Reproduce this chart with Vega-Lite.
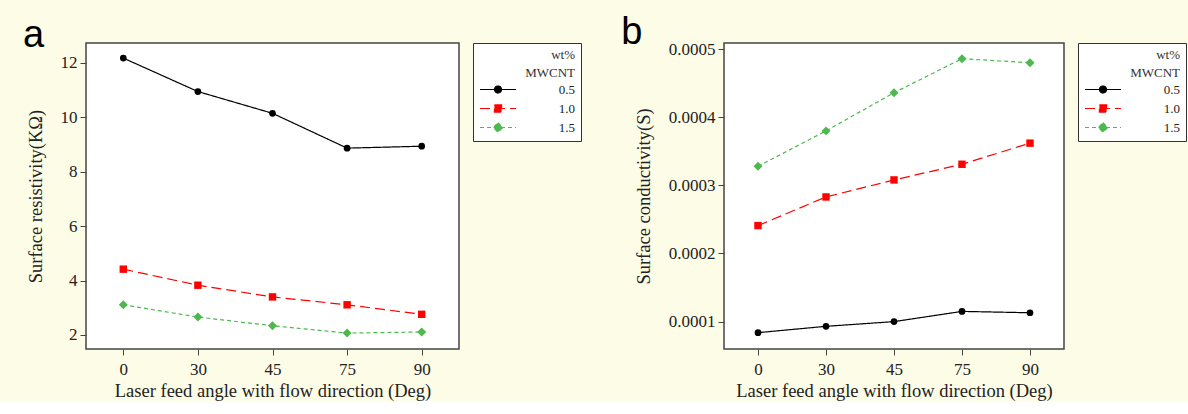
{
  "$schema": "https://vega.github.io/schema/vega-lite/v6.json",
  "background": "#fdfce6",
  "padding": {"left": 22, "top": 13, "right": 2, "bottom": 0},
  "config": {
    "font": "Liberation Serif",
    "view": {"stroke": "#444", "strokeWidth": 1.5, "fill": "white"},
    "axis": {"domain": false, "grid": false, "tickColor": "#444", "tickSize": 6, "labelFontSize": 17, "titleFontSize": 18.5, "titleFontWeight": "normal", "labelColor": "#222", "titleColor": "#222", "labelPadding": 3, "labelFont": "Liberation Serif", "titleFont": "Liberation Serif"},
    "axisX": {"labelPadding": 6, "titlePadding": 4},
    "axisY": {"titlePadding": 15},
    "title": {"font": "Liberation Sans", "fontSize": 38, "fontWeight": "normal", "anchor": "start", "frame": "bounds", "color": "black", "baseline": "alphabetic"},
    "legend": {
      "orient": "right", "offset": 14, "padding": 6, "strokeColor": "#333", "fillColor": "white",
      "symbolSize": 225, "symbolStrokeWidth": 1.2, "symbolOpacity": 1,
      "labelAlign": "right", "labelOffset": 79, "labelFontSize": 13, "labelFont": "Liberation Serif", "labelColor": "#222",
      "titleFontSize": 13, "titleFont": "Liberation Serif", "titleFontWeight": "normal", "titleColor": "#333",
      "titleAlign": "right", "titleAnchor": "end", "titleLineHeight": 18, "titlePadding": 1, "rowPadding": 3
    }
  },
  "spacing": 37,
  "resolve": {"scale": {"x": "independent", "y": "independent", "color": "independent", "shape": "independent", "strokeDash": "independent", "stroke": "independent"}, "legend": {"color": "independent", "shape": "independent", "strokeDash": "independent", "stroke": "independent"}},
  "hconcat": [
    {
      "title": {"text": "a", "offset": -12, "dx": -3},
      "width": 373, "height": 306,
      "data": {"values": [
        {"angle": 0, "wt": "0.5", "value": 12.18}, {"angle": 30, "wt": "0.5", "value": 10.95}, {"angle": 45, "wt": "0.5", "value": 10.15}, {"angle": 75, "wt": "0.5", "value": 8.87}, {"angle": 90, "wt": "0.5", "value": 8.94},
        {"angle": 0, "wt": "1.0", "value": 4.42}, {"angle": 30, "wt": "1.0", "value": 3.83}, {"angle": 45, "wt": "1.0", "value": 3.40}, {"angle": 75, "wt": "1.0", "value": 3.11}, {"angle": 90, "wt": "1.0", "value": 2.76},
        {"angle": 0, "wt": "1.5", "value": 3.11}, {"angle": 30, "wt": "1.5", "value": 2.66}, {"angle": 45, "wt": "1.5", "value": 2.34}, {"angle": 75, "wt": "1.5", "value": 2.07}, {"angle": 90, "wt": "1.5", "value": 2.11}
      ]},
      "encoding": {
        "x": {"field": "angle", "type": "ordinal", "scale": {"type": "point", "padding": 0.5}, "axis": {"labelAngle": 0, "title": "Laser feed angle with flow direction (Deg)"}},
        "y": {"field": "value", "type": "quantitative", "scale": {"domain": [1.485, 12.735], "nice": false, "zero": false}, "axis": {"values": [2, 4, 6, 8, 10, 12], "title": "Surface resistivity(KΩ)"}}
      },
      "layer": [
        {"mark": {"type": "point", "filled": true, "opacity": 0, "strokeWidth": 1.2}, "encoding": {
          "color": {"field": "wt", "type": "nominal", "scale": {"domain": ["0.5", "1.0", "1.5"], "range": ["#000000", "#ff0000", "#4db84d"]}, "legend": {"title": ["wt%", "MWCNT"]}},
          "stroke": {"field": "wt", "type": "nominal", "scale": {"domain": ["0.5", "1.0", "1.5"], "range": ["#000000", "#ff0000", "#4db84d"]}, "legend": {"title": ["wt%", "MWCNT"]}},
          "strokeDash": {"field": "wt", "type": "nominal", "scale": {"domain": ["0.5", "1.0", "1.5"], "range": [[1, 0], [10, 5], [4, 3]]}, "legend": {"title": ["wt%", "MWCNT"]}},
          "shape": {"field": "wt", "type": "nominal", "scale": {"domain": ["0.5", "1.0", "1.5"], "range": ["M-1,0H3.8M0.93,0A0.47,0.47 0 1,1 1.87,0A0.47,0.47 0 1,1 0.93,0Z", "M-1,0H3.8M0.92,-0.48H1.88V0.48H0.92Z", "M-1,0H3.8M1.4,-0.63L2.03,0L1.4,0.63L0.77,0Z"]}, "legend": {"title": ["wt%", "MWCNT"]}}
        }},
        {"mark": {"type": "line", "strokeWidth": 1.2}, "encoding": {
          "color": {"field": "wt", "type": "nominal", "legend": null},
          "strokeDash": {"field": "wt", "type": "nominal", "legend": null}}},
        {"transform": [{"filter": "datum.wt === '0.5'"}], "mark": {"type": "point", "shape": "circle", "filled": true, "opacity": 1, "size": 45}, "encoding": {"color": {"field": "wt", "type": "nominal", "legend": null}}},
        {"transform": [{"filter": "datum.wt === '1.0'"}], "mark": {"type": "point", "shape": "square", "filled": true, "opacity": 1, "size": 55}, "encoding": {"color": {"field": "wt", "type": "nominal", "legend": null}}},
        {"transform": [{"filter": "datum.wt === '1.5'"}], "mark": {"type": "point", "shape": "diamond", "filled": true, "opacity": 1, "size": 80}, "encoding": {"color": {"field": "wt", "type": "nominal", "legend": null}}}
      ]
    },
    {
      "title": {"text": "b", "offset": -12, "dx": -13},
      "width": 340, "height": 306,
      "data": {"values": [
        {"angle": 0, "wt": "0.5", "value": 0.0000838}, {"angle": 30, "wt": "0.5", "value": 0.0000931}, {"angle": 45, "wt": "0.5", "value": 0.0001}, {"angle": 75, "wt": "0.5", "value": 0.000115}, {"angle": 90, "wt": "0.5", "value": 0.000113},
        {"angle": 0, "wt": "1.0", "value": 0.000241}, {"angle": 30, "wt": "1.0", "value": 0.000283}, {"angle": 45, "wt": "1.0", "value": 0.000308}, {"angle": 75, "wt": "1.0", "value": 0.000331}, {"angle": 90, "wt": "1.0", "value": 0.000362},
        {"angle": 0, "wt": "1.5", "value": 0.000328}, {"angle": 30, "wt": "1.5", "value": 0.00038}, {"angle": 45, "wt": "1.5", "value": 0.000436}, {"angle": 75, "wt": "1.5", "value": 0.000486}, {"angle": 90, "wt": "1.5", "value": 0.00048}
      ]},
      "encoding": {
        "x": {"field": "angle", "type": "ordinal", "scale": {"type": "point", "padding": 0.5}, "axis": {"labelAngle": 0, "title": "Laser feed angle with flow direction (Deg)"}},
        "y": {"field": "value", "type": "quantitative", "scale": {"domain": [0.0000598, 0.000509], "nice": false, "zero": false}, "axis": {"values": [0.0001, 0.0002, 0.0003, 0.0004, 0.0005], "format": ".4f", "title": "Surface conductivity(S)"}}
      },
      "layer": [
        {"mark": {"type": "point", "filled": true, "opacity": 0, "strokeWidth": 1.2}, "encoding": {
          "color": {"field": "wt", "type": "nominal", "scale": {"domain": ["0.5", "1.0", "1.5"], "range": ["#000000", "#ff0000", "#4db84d"]}, "legend": {"title": ["wt%", "MWCNT"]}},
          "stroke": {"field": "wt", "type": "nominal", "scale": {"domain": ["0.5", "1.0", "1.5"], "range": ["#000000", "#ff0000", "#4db84d"]}, "legend": {"title": ["wt%", "MWCNT"]}},
          "strokeDash": {"field": "wt", "type": "nominal", "scale": {"domain": ["0.5", "1.0", "1.5"], "range": [[1, 0], [10, 5], [4, 3]]}, "legend": {"title": ["wt%", "MWCNT"]}},
          "shape": {"field": "wt", "type": "nominal", "scale": {"domain": ["0.5", "1.0", "1.5"], "range": ["M-1,0H3.8M0.93,0A0.47,0.47 0 1,1 1.87,0A0.47,0.47 0 1,1 0.93,0Z", "M-1,0H3.8M0.92,-0.48H1.88V0.48H0.92Z", "M-1,0H3.8M1.4,-0.63L2.03,0L1.4,0.63L0.77,0Z"]}, "legend": {"title": ["wt%", "MWCNT"]}}
        }},
        {"mark": {"type": "line", "strokeWidth": 1.2}, "encoding": {
          "color": {"field": "wt", "type": "nominal", "legend": null},
          "strokeDash": {"field": "wt", "type": "nominal", "legend": null}}},
        {"transform": [{"filter": "datum.wt === '0.5'"}], "mark": {"type": "point", "shape": "circle", "filled": true, "opacity": 1, "size": 45}, "encoding": {"color": {"field": "wt", "type": "nominal", "legend": null}}},
        {"transform": [{"filter": "datum.wt === '1.0'"}], "mark": {"type": "point", "shape": "square", "filled": true, "opacity": 1, "size": 55}, "encoding": {"color": {"field": "wt", "type": "nominal", "legend": null}}},
        {"transform": [{"filter": "datum.wt === '1.5'"}], "mark": {"type": "point", "shape": "diamond", "filled": true, "opacity": 1, "size": 80}, "encoding": {"color": {"field": "wt", "type": "nominal", "legend": null}}}
      ]
    }
  ]
}
